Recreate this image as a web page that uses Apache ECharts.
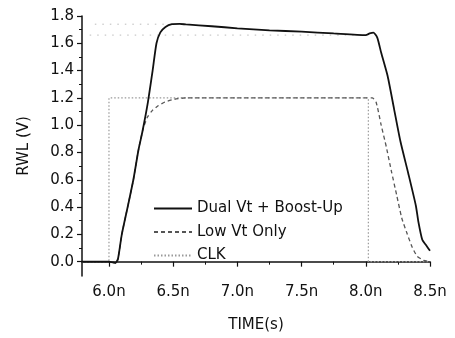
<!DOCTYPE html>
<html>
<head>
<meta charset="utf-8">
<script src="https://cdn.jsdelivr.net/npm/echarts@6/dist/echarts.min.js"></script>
<style>
html, body { margin: 0; padding: 0; background: #fff; }
#chart { width: 455px; height: 338px; }
</style>
</head>
<body>
<div id="chart"></div>
<script>
// 数据：时间(ns) 与 电压(V)
var dualT = [5.79, 6.00, 6.03, 6.05, 6.07, 6.10, 6.15, 6.19, 6.23, 6.26, 6.30, 6.34, 6.37, 6.40, 6.44, 6.49, 6.55, 6.60, 6.80, 7.00, 7.25, 7.50, 7.75, 8.00, 8.03, 8.06, 8.09, 8.12, 8.17, 8.22, 8.27, 8.33, 8.39, 8.41, 8.44, 8.47, 8.50];
var dualV = [0, 0, -0.005, -0.01, 0.02, 0.2, 0.42, 0.6, 0.82, 0.95, 1.15, 1.4, 1.6, 1.68, 1.72, 1.74, 1.742, 1.738, 1.725, 1.71, 1.695, 1.685, 1.672, 1.66, 1.672, 1.678, 1.64, 1.53, 1.36, 1.12, 0.88, 0.65, 0.41, 0.29, 0.16, 0.12, 0.08];

var lowT = [5.79, 6.00, 6.03, 6.05, 6.07, 6.10, 6.15, 6.19, 6.23, 6.265, 6.30, 6.34, 6.38, 6.435, 6.51, 6.60, 7.00, 7.50, 8.00, 8.05, 8.08, 8.12, 8.16, 8.20, 8.24, 8.28, 8.32, 8.36, 8.40, 8.45, 8.50];
var lowV = [0, 0, -0.005, -0.01, 0.02, 0.2, 0.42, 0.6, 0.82, 0.97, 1.06, 1.11, 1.14, 1.17, 1.19, 1.2, 1.2, 1.2, 1.2, 1.2, 1.17, 1.0, 0.84, 0.66, 0.49, 0.32, 0.21, 0.11, 0.04, 0.01, 0.0];

var clkT = [5.79, 6.0, 6.0, 8.02, 8.02, 8.5];
var clkV = [0, 0, 1.2, 1.2, 0, 0];

// 两条灰色点线参考线
var refHighT = [5.89, 6.44];
var refHighV = [1.74, 1.74];
var refLowT = [5.85, 8.01];
var refLowV = [1.66, 1.66];

// 刻度
var xMajor = [6.0, 6.5, 7.0, 7.5, 8.0, 8.5];
var xMinor = [6.25, 6.75, 7.25, 7.75, 8.25];
var yMajor = [0.0, 0.2, 0.4, 0.6, 0.8, 1.0, 1.2, 1.4, 1.6, 1.8];
var yMinor = [0.1, 0.3, 0.5, 0.7, 0.9, 1.1, 1.3, 1.5, 1.7];

function zip(t, v) {
	var out = [];
	for (var i = 0; i < t.length; i++) {
		out.push([t[i], v[i]]);
	}
	return out;
}

var font = 'DejaVu Sans, Liberation Sans, sans-serif';
var myChart = echarts.init(document.getElementById('chart'));

var option = {
	backgroundColor: '#fff',
	animation: false,
	grid: {
		left: 82,
		right: 25,
		top: 16,
		bottom: 61
	},
	legend: {
		orient: 'vertical',
		left: 148,
		top: 196,
		itemWidth: 38,
		itemHeight: 14,
		itemGap: 8.5,
		itemStyle: { opacity: 0 },
		textStyle: { fontFamily: font, fontSize: 15, color: '#111' },
		data: ['Dual Vt + Boost-Up', 'Low Vt Only', 'CLK']
	},
	xAxis: [{
		type: 'value',
		min: 5.79,
		max: 8.5,
		name: 'TIME(s)',
		nameLocation: 'middle',
		nameGap: 42,
		nameTextStyle: { fontFamily: font, fontSize: 15, color: '#111' },
		axisLine: { show: true, lineStyle: { color: '#111', width: 1.5 } },
		axisTick: { show: true, inside: false, length: 5, customValues: xMajor, lineStyle: { color: '#111', width: 1.2 } },
		axisLabel: {
			customValues: xMajor, margin: 9, fontFamily: font, fontSize: 15, color: '#111',
			formatter: function(v) { return v.toFixed(1) + 'n'; }
		},
		splitLine: { show: false }
	}, {
		type: 'value',
		min: 5.79,
		max: 8.5,
		position: 'bottom',
		axisLine: { show: false },
		axisTick: { show: true, length: 3, customValues: xMinor, lineStyle: { color: '#111', width: 1 } },
		axisLabel: { show: false },
		splitLine: { show: false }
	}],
	yAxis: [{
		type: 'value',
		min: -0.105,
		max: 1.8,
		name: 'RWL (V)',
		nameLocation: 'middle',
		nameGap: 50,
		nameTextStyle: { fontFamily: font, fontSize: 15, color: '#111' },
		axisLine: { show: true, lineStyle: { color: '#111', width: 1.5 } },
		axisTick: { show: true, inside: false, length: 5, customValues: yMajor, lineStyle: { color: '#111', width: 1.2 } },
		axisLabel: {
			customValues: yMajor, margin: 8, fontFamily: font, fontSize: 15, color: '#111',
			formatter: function(v) { return v.toFixed(1); }
		},
		splitLine: { show: false }
	}, {
		type: 'value',
		min: -0.105,
		max: 1.8,
		position: 'left',
		axisLine: { show: false },
		axisTick: { show: true, length: 3, customValues: yMinor, lineStyle: { color: '#111', width: 1 } },
		axisLabel: { show: false },
		splitLine: { show: false }
	}],
	series: [{
		name: 'Dual Vt + Boost-Up',
		type: 'line',
		symbol: 'none',
		smooth: 0.2,
		lineStyle: { color: '#111', width: 1.8, type: 'solid' },
		itemStyle: { color: '#111' },
		data: zip(dualT, dualV),
		z: 5
	}, {
		name: 'Low Vt Only',
		type: 'line',
		symbol: 'none',
		smooth: 0.2,
		lineStyle: { color: '#555', width: 1.3, type: [4, 3] },
		itemStyle: { color: '#555' },
		data: zip(lowT, lowV),
		z: 4
	}, {
		name: 'CLK',
		type: 'line',
		symbol: 'none',
		lineStyle: { color: '#999', width: 1.2, type: [1.5, 2] },
		itemStyle: { color: '#999' },
		data: zip(clkT, clkV),
		z: 3
	}, {
		name: 'ref1',
		type: 'line',
		symbol: 'none',
		silent: true,
		lineStyle: { color: '#bbb', width: 1, type: [1.5, 6] },
		data: zip(refHighT, refHighV),
		z: 2
	}, {
		name: 'ref2',
		type: 'line',
		symbol: 'none',
		silent: true,
		lineStyle: { color: '#bbb', width: 1, type: [1.5, 6] },
		data: zip(refLowT, refLowV),
		z: 2
	}]
};

myChart.setOption(option);
</script>
</body>
</html>
